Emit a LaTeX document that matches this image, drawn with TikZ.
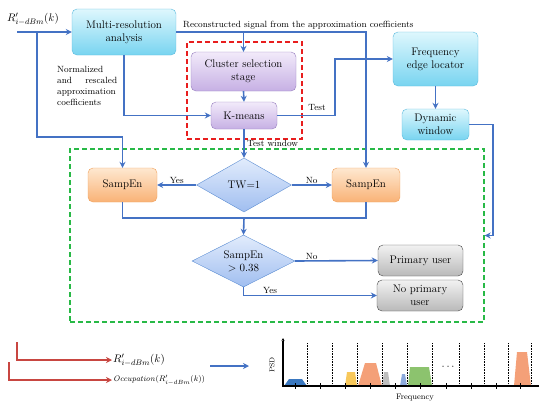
\documentclass[tikz,border=0pt]{standalone}
\usepackage{xcolor}
\usepackage{amsmath}
\usepackage{tikz}
\usetikzlibrary{positioning, arrows.meta, shapes.geometric}

\definecolor{flowblue}{RGB}{68,114,196}
\definecolor{legred}{RGB}{200,70,65}
\definecolor{dashred}{RGB}{232,30,30}
\definecolor{dashgreen}{RGB}{40,185,70}
\definecolor{cyantop}{RGB}{222,247,253}
\definecolor{cyanbot}{RGB}{120,212,240}
\definecolor{cyanedge}{RGB}{90,185,220}
\definecolor{purptop}{RGB}{242,234,250}
\definecolor{purpbot}{RGB}{198,176,228}
\definecolor{purpedge}{RGB}{150,125,190}
\definecolor{orgtop}{RGB}{254,232,208}
\definecolor{orgbot}{RGB}{249,178,118}
\definecolor{orgedge}{RGB}{240,160,90}
\definecolor{graytop}{RGB}{242,242,242}
\definecolor{graybot}{RGB}{185,185,185}
\definecolor{grayedge}{RGB}{70,70,70}
\definecolor{diatop}{RGB}{226,236,252}
\definecolor{diabot}{RGB}{160,190,240}
\definecolor{diaedge}{RGB}{90,140,210}
\definecolor{psdblue}{RGB}{58,120,192}
\definecolor{psdyellow}{RGB}{248,200,90}
\definecolor{psdorange}{RGB}{244,160,120}
\definecolor{psdgray}{RGB}{190,190,190}
\definecolor{psdlblue}{RGB}{140,170,220}
\definecolor{psdgreen}{RGB}{140,195,110}

\begin{document}
\begin{tikzpicture}[
    x=1pt, y=-1pt,
    box/.style={draw, rounded corners=5pt, align=center, font=\fontsize{11}{13}\selectfont, inner sep=1pt},
    cyanbox/.style={box, draw=cyanedge, top color=cyantop, bottom color=cyanbot},
    purplebox/.style={box, draw=purpedge, top color=purptop, bottom color=purpbot},
    orangebox/.style={box, draw=orgedge, top color=orgtop, bottom color=orgbot},
    graybox/.style={box, draw=grayedge, top color=graytop, bottom color=graybot},
    decision/.style={diamond, draw=diaedge, top color=diatop, bottom color=diabot, align=center, font=\fontsize{11}{13}\selectfont, inner sep=0pt, aspect=1.8},
    group/.style={line width=1.4pt, dash pattern=on 5pt off 3pt},
    flow/.style={draw=flowblue, line width=1.6pt, -{Stealth[length=6pt, width=6pt]}},
    link/.style={draw=flowblue, line width=1.6pt},
    redflow/.style={draw=legred, line width=1.3pt, -{Stealth[length=6pt, width=6pt]}},
    lbl/.style={font=\fontsize{9}{11}\selectfont, inner sep=1pt}
]
\useasboundingbox (0,0) rectangle (550,408);

\node[group, draw=dashred, minimum width=115pt, minimum height=97pt] (rbox) at (244.5,90.5) {};
\node[group, draw=dashgreen, minimum width=414pt, minimum height=173pt] (gbox) at (277,235.5) {};

\node[cyanbox, minimum width=104pt, minimum height=46pt] (mra) at (124,32) {Multi-resolution\\analysis};
\node[purplebox, minimum width=105pt, minimum height=39pt] (css) at (243.5,71.5) {Cluster selection\\stage};
\node[purplebox, minimum width=66pt, minimum height=27pt] (km) at (244,115.5) {K-means};
\node[cyanbox, minimum width=85pt, minimum height=54pt] (fel) at (435.5,59) {Frequency\\edge locator};
\node[cyanbox, minimum width=67pt, minimum height=31pt] (dyn) at (435.5,124.5) {Dynamic\\window};
\node[orangebox, minimum width=69pt, minimum height=34pt] (sl) at (122.5,185) {SampEn};
\node[orangebox, minimum width=68pt, minimum height=34pt] (sr) at (366,185) {SampEn};
\node[decision, minimum width=95pt, minimum height=54pt] (tw) at (244,185) {TW=1};
\node[decision, minimum width=103pt, minimum height=52pt] (sd) at (243.5,261) {SampEn\\$>0.38$};
\node[graybox, minimum width=85pt, minimum height=31pt] (pu) at (420.5,260.5) {Primary user};
\node[graybox, minimum width=86pt, minimum height=31pt] (npu) at (420,295.5) {No primary\\user};

\node[font=\fontsize{11}{13}\selectfont, inner sep=0pt] (rin) at (33,19) {$R'_{i-dBm}(k)$};
\coordinate (in) at (17,32);
\coordinate (split) at (37,32);
\coordinate (merge) at (244,218);

\draw[flow] (in) -- (mra.west);
\draw[flow] (split) -- (split |- 0,137) -| (sl.north);
\draw[flow] (mra.east) -| (sr.north);
\draw[flow] (css.north |- mra.east) -- (css.north);
\node[lbl, anchor=base west] (rec) at (182,27) {Reconstructed signal from the approximation coefficients};
\draw[flow] (mra.south) |- (km.west);
\node[lbl, text width=60pt, align=left, anchor=north west, inner sep=0pt] (norm) at (57,66)
    {Normalized\\ and\hfill rescaled\\ approximation\\ coefficients};
\draw[flow] (css.south) -- (km.north);
\draw[flow] (km.east) -- ++(58,0) |- (fel.west);
\node[lbl] (test) at (317,107) {Test};
\draw[flow] (fel.south) -- (dyn.north);
\draw[flow] (dyn.east) -- ++(24,0) |- (gbox.east);
\draw[flow] (km.south) -- (tw.north);
\node[lbl, anchor=west] (tw-lbl) at (246,143) {Test window};
\draw[flow] (tw.west) -- (sl.east) node[lbl, midway, above] {Yes};
\draw[flow] (tw.east) -- (sr.west) node[lbl, midway, above] {No};
\draw[link] (sl.south) |- (merge);
\draw[link] (sr.south) |- (merge);
\draw[flow] (merge) -- (sd.north);
\draw[flow] (sd.east) -- (pu.west) node[lbl, pos=0.2, above] {No};
\draw[flow] (sd.south) |- (npu.west) node[lbl, pos=0.6, above] {Yes};

\coordinate (r1) at (17,342);
\coordinate (r2) at (9,362);
\node[font=\fontsize{11}{13}\selectfont, anchor=west, inner sep=1pt] (leg1) at (112,360) {$R'_{i-dBm}(k)$};
\node[font=\fontsize{8}{10}\selectfont, anchor=west, inner sep=1pt] (leg2) at (112,380) {$\mathit{Occupation}(R'_{i-dBm}(k))$};
\draw[redflow] (r1) |- (leg1.west);
\draw[redflow] (r2) |- (leg2.west);
\coordinate (ba) at (210,366);
\coordinate (bb) at (249,366);
\draw[flow] (ba) -- (bb);

\fill[psdblue] (284,386) -- (289,379) -- (302,379) -- (307,386) -- cycle;
\fill[psdyellow] (345,386) -- (347,372) -- (355,372) -- (357,386) -- cycle;
\fill[psdorange] (358,386) -- (365,363) -- (376,363) -- (382,386) -- cycle;
\fill[psdgray] (382,386) -- (384,372) -- (388,372) -- (390,386) -- cycle;
\fill[psdlblue] (400,386) -- (402,374) -- (405,374) -- (407,386) -- cycle;
\fill[psdgreen] (408,386) -- (410,367) -- (429,367) -- (432,386) -- cycle;
\fill[psdorange] (514,386) -- (517,352) -- (527,352) -- (531,386) -- cycle;
\foreach \x in {307,332,357,382,407,432,459,484,508,531}
    \draw[densely dotted, line width=0.6pt] (\x,343) -- (\x,386);
\foreach \x in {295,320,345,370,395,420,446,471,496,520}
    \draw[line width=0.6pt] (\x,383) -- (\x,389);
\draw[line width=1.2pt] (539,386) -- (283,386) -- (283,341);
\draw[-{Stealth[length=3pt, width=3pt]}, line width=0.8pt] (283,345) -- (283,338);
\node[font=\fontsize{11}{13}\selectfont] (dots) at (449,367) {$\cdots$};
\node[font=\fontsize{7}{8}\selectfont, rotate=90] (psd) at (272,365) {PSD};
\node[font=\fontsize{8}{10}\selectfont] (freq) at (415,398) {Frequency};
\end{tikzpicture}
\end{document}
